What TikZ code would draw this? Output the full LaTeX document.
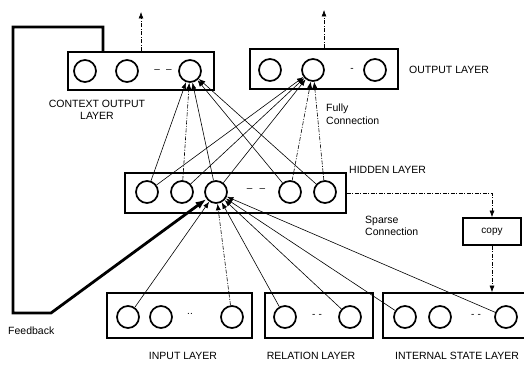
\documentclass[tikz,border=0pt]{standalone}
\usepackage{fontspec}
\setmainfont{Liberation Sans}
\usetikzlibrary{arrows.meta,positioning,calc}
\tikzset{
  ar/.style={-{Latex[length=6.5pt,width=5pt]},line width=0.6pt},
  dd/.style={dash pattern=on 4pt off 1.5pt on 1pt off 1.5pt},
  lyr/.style={draw,line width=1.7pt,inner sep=0pt},
  nrn/.style={draw,circle,line width=1.7pt,minimum width=20pt,minimum height=22pt,inner sep=0pt},
  lbl/.style={font=\fontsize{10.5}{12.5}\selectfont,inner sep=1pt,align=left},
  gap/.style={font=\fontsize{10}{10}\selectfont,inner sep=0pt}
}
\begin{document}
\begin{tikzpicture}[x=1pt,y=-1pt]
\useasboundingbox (0,0) rectangle (524,366);
% layer boxes
\node[lyr,minimum width=146pt,minimum height=38pt] (cbox) at (141,71) {};
\node[lyr,minimum width=148pt,minimum height=40pt] (obox) at (324,69) {};
\node[lyr,minimum width=221pt,minimum height=40pt] (hbox) at (235.5,193) {};
\node[lyr,minimum width=145pt,minimum height=45pt] (ibox) at (179.5,315.5) {};
\node[lyr,minimum width=108pt,minimum height=45pt] (rbox) at (319,315.5) {};
\node[lyr,minimum width=146pt,minimum height=45pt] (sbox) at (456,315.5) {};
\node[lyr,minimum width=58pt,minimum height=27pt,font=\fontsize{10}{11}\selectfont] (cpy) at (492,231.5) {copy};
% units
\foreach \n/\x in {c1/85,c2/127,c3/190} \node[nrn] (\n) at (\x,71) {};
\foreach \n/\x in {o1/270,o2/313,o3/375} \node[nrn] (\n) at (\x,70) {};
\foreach \n/\x in {h1/147,h2/182,h3/216,h4/290,h5/325} \node[nrn] (\n) at (\x,192) {};
\foreach \n/\x in {i1/128,i2/161,i3/232} \node[nrn] (\n) at (\x,317) {};
\foreach \n/\x in {r1/285,r2/350} \node[nrn] (\n) at (\x,317) {};
\foreach \n/\x in {s1/405,s2/440,s3/506} \node[nrn] (\n) at (\x,317) {};
\node[gap] (cg) at (163,71) {--\hspace{6pt}--};
\node[gap] (og) at (352,70) {-};
\node[gap] (hg) at (256,190) {--\hspace{7pt}--};
\node[gap] (ig) at (190,314) {..};
\node[gap] (rg) at (317,316) {-\hspace{3pt}-};
\node[gap] (sg) at (476,316) {-\hspace{3pt}-};
% labels
\node[lbl,align=center] (cl) at (97,110) {CONTEXT OUTPUT\\LAYER};
\node[lbl,anchor=west] (ol) at (408,70) {OUTPUT LAYER};
\node[lbl,anchor=west] (fl) at (325,114) {Fully\\Connection};
\node[lbl,anchor=west] (hl) at (348,170) {HIDDEN LAYER};
\node[lbl,anchor=west] (sl) at (364,226) {Sparse\\Connection};
\node[lbl,anchor=west] (fbl) at (7,331) {Feedback};
\node[lbl] (il) at (183,356) {INPUT LAYER};
\node[lbl] (rl) at (311,356) {RELATION LAYER};
\node[lbl] (sl2) at (457,356) {INTERNAL STATE LAYER};
% outputs
\coordinate (cout) at (141,12);
\coordinate (oout) at (324,10);
\draw[ar,dd] (cbox.north) -- (cout);
\draw[ar,dd] (obox.north) -- (oout);
% fully connection
\foreach \i in {1,3,4,5} \draw[ar] (h\i) -- (c3);
\draw[ar,dd] (h2) -- (c3);
\foreach \i in {1,2,3} \draw[ar] (h\i) -- (o2);
\draw[ar,dd] (h4) -- (o2);
\draw[ar,dd] (h5) -- (o2);
% sparse connection
\foreach \n in {i1,r1,r2,s1,s3} \draw[ar] (\n) -- (h3);
\draw[ar,dd] (i3) -- (h3);
% copy
\draw[ar,dd] (hbox.east) -| (cpy.north);
\draw[ar,dd] (cpy.south) -- (cpy.south |- sbox.north);
% feedback
\coordinate (fb1) at (13,27);
\coordinate (fb2) at (13,313);
\coordinate (fb3) at (51,313);
\draw[-{Latex[length=11pt,width=8pt]},line width=2.8pt,line join=miter] ([xshift=-38pt]cbox.north) |- (fb1) -- (fb2) -- (fb3) -- (h3);
\end{tikzpicture}
\end{document}
